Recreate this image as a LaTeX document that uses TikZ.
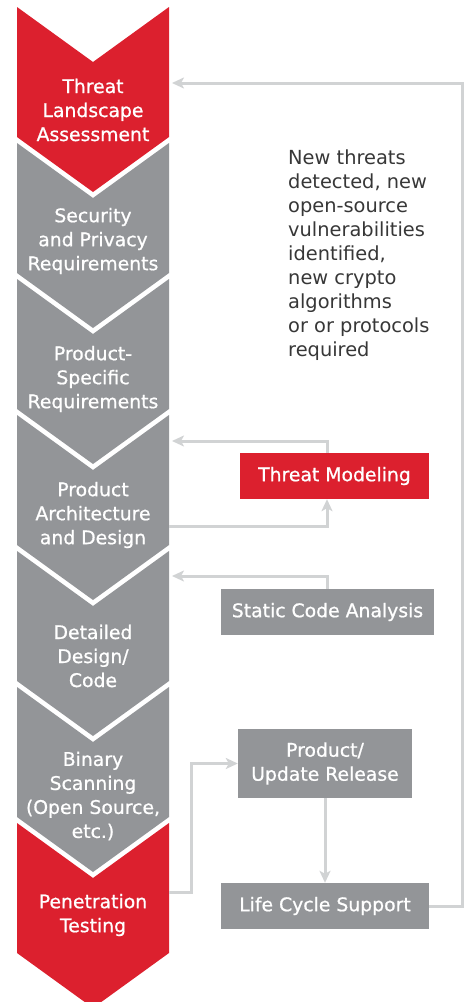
\documentclass[tikz,border=0pt]{standalone}
\usepackage{fontspec}
\setmainfont{DejaVu Sans}
\newfontfamily\stagefam{DejaVu Sans}[FakeBold=0.8]
\usetikzlibrary{arrows.meta}

\definecolor{hwred}{RGB}{220,32,46}
\definecolor{hwgray}{RGB}{147,149,152}
\definecolor{linkgray}{RGB}{209,211,212}
\definecolor{notegray}{RGB}{55,55,55}

\newcommand{\stagefont}{\stagefam\fontsize{18.8}{24}\selectfont}
\newcommand{\notefont}{\fontsize{19.4}{24}\selectfont}

\begin{document}
\begin{tikzpicture}[x=1pt,y=-1pt,
  stagetext/.style={text=white, font=\stagefont, align=center, inner sep=0pt},
  sidebox/.style={fill=hwgray, text=white, font=\stagefont, align=center,
                  inner sep=0pt, minimum height=46pt},
  link/.style={draw=linkgray, line width=3pt},
  linkarrow/.style={-{Stealth[length=12pt,width=11pt,inset=3pt]}}
]
\useasboundingbox (0,0) rectangle (468,1002);

% stage chevrons, top to bottom (the last tip runs past the lower edge)
\begin{scope}
\clip (0,0) rectangle (468,1002);
\foreach \k/\col in {0/hwred,1/hwgray,2/hwgray,3/hwgray,4/hwgray,5/hwgray,6/hwred}{
  \pgfmathsetmacro{\ytop}{7+136*\k}
  \fill[\col] (17,\ytop) -- (93,\ytop+55) -- (169,\ytop) -- (169,\ytop+130)
    -- (93,\ytop+185) -- (17,\ytop+130) -- cycle;
}
\end{scope}

% stage labels
\node[stagetext] (tla) at (93,110) {Threat\\Landscape\\Assessment};
\node[stagetext] (spr) at (93,241) {Security\\and Privacy\\Requirements};
\node[stagetext] (psr) at (93,379) {Product-\\Specific\\Requirements};
\node[stagetext] (pad) at (93,515) {Product\\Architecture\\and Design};
\node[stagetext] (ddc) at (93,656) {Detailed\\Design/\\Code};
\node[stagetext] (bsc) at (93,796) {Binary\\Scanning\\(Open Source,\\etc.)};
\node[stagetext] (pen) at (93,915) {Penetration\\Testing};

% activities beside the stages
\node[sidebox, fill=hwred, minimum width=189pt] (tm)  at (334.5,476) {Threat Modeling};
\node[sidebox, minimum width=213pt] (sca) at (327.5,612) {Static Code Analysis};
\node[sidebox, minimum width=174pt, minimum height=69pt] (pur) at (325,763.5) {Product/\\Update Release};
\node[sidebox, minimum width=208pt] (lcs) at (325,906) {Life Cycle Support};

% note on the feedback loop
\node[anchor=west, align=left, text=notegray, font=\notefont, inner sep=0pt] (note)
  at (288,255) {New threats\\detected, new\\open-source\\vulnerabilities\\identified,\\new crypto\\algorithms\\or or protocols\\required};

% connection points on the chevron column
\coordinate (tla-in)  at (172,83);
\coordinate (pad-in)  at (172,441);
\coordinate (pad-out) at (169,526);
\coordinate (ddc-in)  at (172,576);
\coordinate (pen-out) at (169,892);
\coordinate (loop)    at (462,83);
\coordinate (pen-bend) at (191,892);

% connectors
\draw[link, linkarrow] (lcs.east) -| (loop) -- (tla-in);
\draw[link, linkarrow] (pad-out) -| ([xshift=-7.5pt]tm.south);
\draw[link, linkarrow] ([xshift=-7.5pt]tm.north) |- (pad-in);
\draw[link, linkarrow] ([xshift=-0.5pt]sca.north) |- (ddc-in);
\draw[link, linkarrow] (pen-out) -- (pen-bend) |- (pur.west);
\draw[link, linkarrow] (pur.south) -- (lcs.north);
\end{tikzpicture}
\end{document}
